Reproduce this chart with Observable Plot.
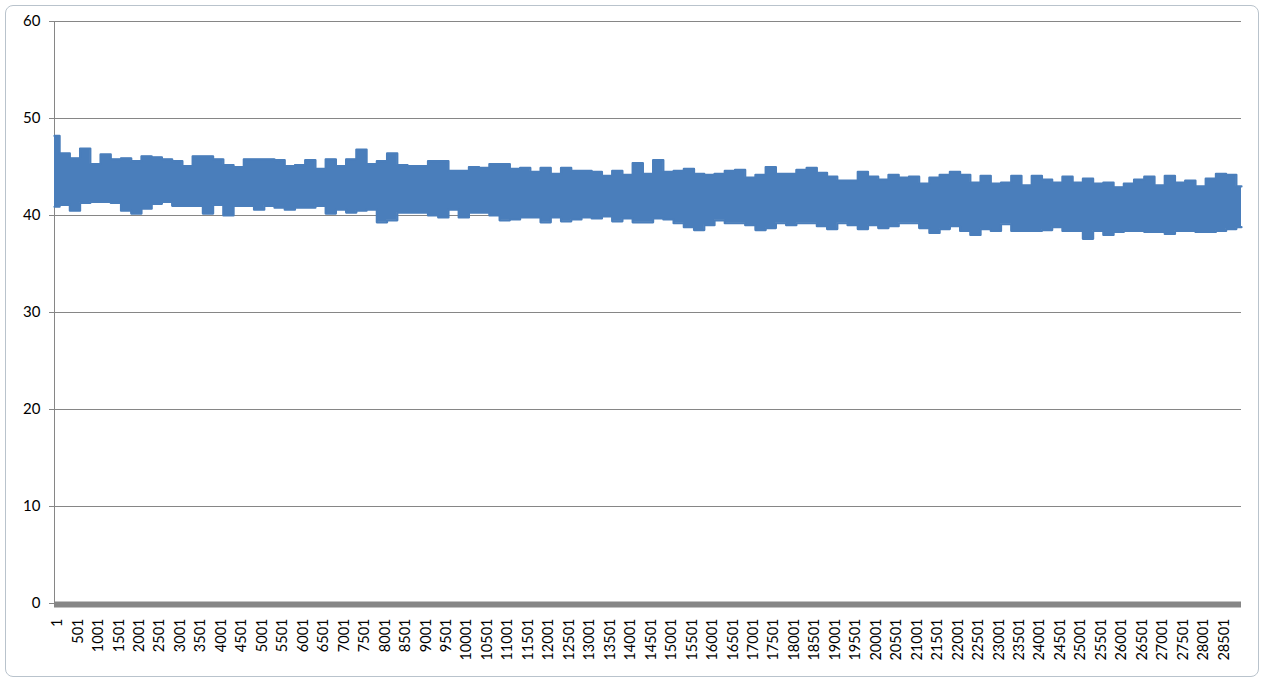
<!DOCTYPE html>
<html>
<head>
<meta charset="utf-8">
<script src="https://cdn.jsdelivr.net/npm/d3@7"></script>
<script src="https://cdn.jsdelivr.net/npm/@observablehq/plot@0.6"></script>
<style>
  html, body { margin: 0; padding: 0; background: #ffffff; }
  #wrap { position: relative; width: 1264px; height: 681px; overflow: hidden; }
  #frame { position: absolute; left: 5px; top: 5px; width: 1252px; height: 670px;
           border: 1px solid #b9c3cc; border-radius: 8px; background: #ffffff; }
  #chart { position: absolute; left: 0; top: 0; }
</style>
</head>
<body>
<div id="wrap"><div id="frame"></div><div id="chart"></div></div>
<script>
// Sample spacing (rows) between read-off envelope values
const sampleStep = 250;

// Upper envelope of the noisy series, read every 250 rows
const upper = [
  48.2,46.4,45.9,46.9,45.3,46.3,45.8,45.9,45.6,46.1,46.0,45.8,45.6,45.1,46.1,46.1,45.8,45.2,45.0,45.8,
  45.8,45.8,45.7,45.1,45.2,45.7,44.8,45.8,45.1,
  45.8,46.8,45.3,45.6,46.4,45.2,45.1,45.1,45.6,45.6,44.6,44.6,45.0,44.9,45.3,45.3,44.8,44.9,44.5,44.9,
  44.3,44.9,44.6,44.6,44.5,44.1,44.6,44.2,45.4,
  44.3,45.7,44.5,44.6,44.8,44.3,44.2,44.3,44.6,44.7,43.9,44.2,45.0,44.3,44.3,44.7,44.9,44.4,44.0,43.6,
  43.6,44.5,44.0,43.7,44.2,43.9,44.0,43.3,43.9,
  44.2,44.5,44.2,43.4,44.1,43.3,43.4,44.1,43.1,44.1,43.7,43.4,44.0,43.4,43.8,43.3,43.4,42.9,43.3,43.7,
  44.0,43.1,44.1,43.4,43.6,43.0,43.8,44.3,44.2,
  43.0
];

// Lower envelope of the noisy series, read every 250 rows
const lower = [
  40.9,41.1,40.5,41.3,41.4,41.4,41.3,40.5,40.2,40.7,41.2,41.4,41.0,41.0,41.0,40.2,41.1,40.0,41.0,41.0,
  40.6,41.0,40.8,40.6,40.8,40.8,41.0,40.2,40.6,
  40.3,40.5,40.6,39.3,39.5,40.3,40.3,40.3,40.0,39.8,40.6,39.8,40.3,40.3,40.0,39.5,39.6,39.8,39.8,39.3,
  39.8,39.4,39.6,39.8,39.7,39.9,39.4,39.7,39.3,
  39.3,39.7,39.6,39.2,38.8,38.5,39.0,39.5,39.2,39.2,39.0,38.5,38.7,39.2,39.0,39.2,39.2,38.9,38.6,39.2,
  39.0,38.6,39.0,38.7,38.9,39.2,39.2,38.7,38.2,
  38.6,38.9,38.4,38.0,38.6,38.4,39.1,38.4,38.4,38.4,38.5,38.8,38.4,38.4,37.6,38.4,38.0,38.3,38.4,38.4,
  38.3,38.3,38.1,38.4,38.4,38.3,38.3,38.4,38.6,
  38.8
];

// Category axis labels
const xTicks = [
  1,501,1001,1501,2001,2501,3001,3501,4001,4501,5001,5501,6001,6501,7001,7501,8001,8501,9001,9501,
  10001,10501,11001,11501,12001,12501,13001,13501,14001,14501,15001,15501,16001,16501,17001,17501,
  18001,18501,19001,19501,20001,20501,21001,21501,22001,22501,23001,23501,24001,24501,25001,25501,
  26001,26501,27001,27501,28001,28501
];

// Value axis ticks
const yTicks = [0, 10, 20, 30, 40, 50, 60];

const blue = "#4a7ebb";
const gray = "#868686";

const rows = upper.map((hi, k) => ({ idx: k * sampleStep + 1, hi, lo: lower[k] }));

const chart = Plot.plot({
  width: 1264,
  height: 681,
  marginLeft: 54,
  marginRight: 23,
  marginTop: 21,
  marginBottom: 78,
  x: { domain: [1, 29001], axis: null },
  y: { domain: [0, 60], axis: null },
  style: { fontFamily: "Lato, 'Open Sans', sans-serif", background: "transparent", overflow: "visible", color: "black" },
  marks: [
    Plot.gridY(yTicks, { stroke: gray, strokeOpacity: 1, strokeWidth: 1 }),
    Plot.ruleX([1], { stroke: gray, strokeWidth: 1 }),
    Plot.axisY(yTicks, { tickSize: 5, tickPadding: 9, stroke: gray, fill: "black", fontSize: 15, label: null }),
    Plot.areaY(rows, { x: "idx", y1: "lo", y2: "hi", fill: blue, curve: "step" }),
    Plot.line(rows, { x: "idx", y: "hi", stroke: blue, strokeWidth: 2.2, curve: "step" }),
    Plot.line(rows, { x: "idx", y: "lo", stroke: blue, strokeWidth: 2.2, curve: "step" }),
    Plot.ruleY([0], { stroke: gray, strokeWidth: 6, dy: 1 }),
    Plot.text(xTicks, {
      x: d => d, y: 0, text: d => String(d), rotate: -90,
      textAnchor: "end", lineAnchor: "middle", dx: 3, dy: 15,
      fontSize: 14.5, fill: "black"
    })
  ]
});

document.getElementById("chart").appendChild(chart);
</script>
</body>
</html>
